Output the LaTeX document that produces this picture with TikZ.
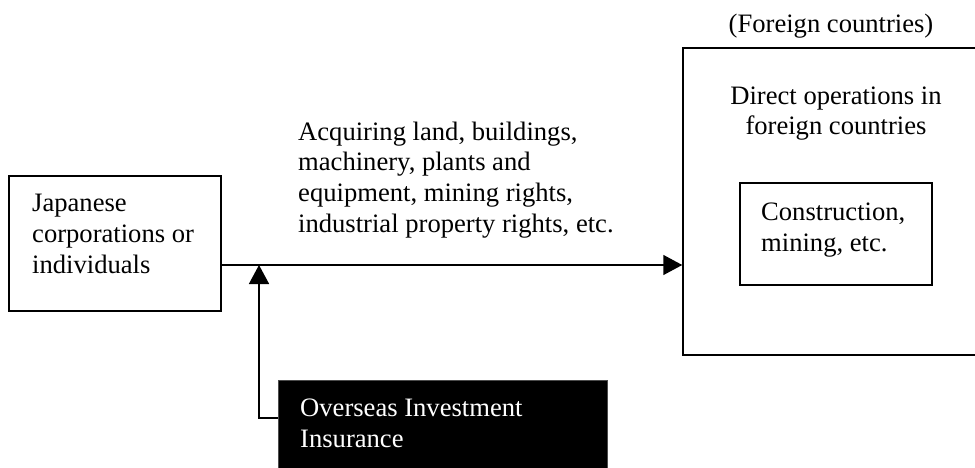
\documentclass[tikz,border=0pt]{standalone}
\usepackage{fontspec}
\setmainfont{Liberation Serif}
\usetikzlibrary{arrows.meta}
\tikzstyle{box-node}=[draw=black,line width=1.5pt,rectangle,inner sep=0pt]
\tikzstyle{black-node}=[draw=black!70,fill=black,rectangle,inner sep=0pt]
\tikzstyle{label-node}=[inner sep=0pt,align=left,anchor=base west]
\tikzstyle{white-label}=[label-node,text=white]
\tikzstyle{black-line}=[draw=black,line width=1.5pt]

\begin{document}
\begin{tikzpicture}[x=1pt,y=-1pt,every node/.style={font=\fontsize{26.6}{30.6}\selectfont}]
	\clip (0,0) rectangle (975,468);
	\useasboundingbox (0,0) rectangle (975,468);
	\begin{scope}
	\node (jp)[box-node,minimum width=212pt,minimum height=135pt] at (115,243.5) {};
	\node (fo)[box-node,minimum width=330pt,minimum height=307pt] at (848,201.5) {};
	\node (co)[box-node,minimum width=192pt,minimum height=102pt] at (836,234) {};
	\node (ins)[black-node,minimum width=329pt,minimum height=110pt] at (442.5,435) {};
	\end{scope}
	
	% anchored at the baseline of the last line
	\begin{scope}
	\node (jp-text)[label-node] at (32,273) {Japanese\\corporations or\\individuals};
	\node (acq)[label-node] at (298,232) {Acquiring land, buildings,\\machinery, plants and\\equipment, mining rights,\\industrial property rights, etc.};
	\node (country)[inner sep=0pt,anchor=base] at (831,33) {(Foreign countries)};
	\node (direct)[inner sep=0pt,align=center,anchor=base] at (836,135) {Direct operations in\\foreign countries};
	\node (co-text)[label-node] at (761,251) {Construction,\\mining, etc.};
	\node (ins-text)[white-label] at (300,447) {Overseas Investment\\Insurance};
	\end{scope}
	
	\coordinate (join) at (259,265);
	\coordinate (bend) at (259,418);
	
	\begin{scope}[>={Triangle[length=19pt,width=20pt]}, every edge/.style=black-line]
	\path [->] (jp.east |- join) edge (fo.west |- join);
	\draw [->,black-line] (ins.west |- bend) -- (bend) -- (join);
	\end{scope}
\end{tikzpicture}
\end{document}
